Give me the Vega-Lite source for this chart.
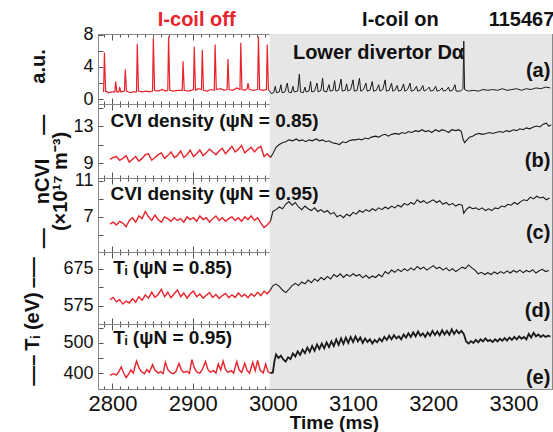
{
"$schema":"https://vega.github.io/schema/vega-lite/v6.json",
"padding":{"left":21,"top":9,"right":4,"bottom":2},
"config":{"font":"Liberation Sans","view":{"stroke":"#888","strokeWidth":1},"axis":{"grid":false,"domainColor":"#888","tickColor":"#555","labelColor":"#111","titleColor":"#111"}},
"datasets":{
"shade":[{"t":2996,"t2":3348}],
"a_off":[{"t":2789,"v":0.9},{"t":2790,"v":5.8},{"t":2791.5,"v":1.0},{"t":2795,"v":0.8},{"t":2799,"v":0.9},{"t":2803,"v":0.9},{"t":2804,"v":2.2},{"t":2805.5,"v":0.9},{"t":2808,"v":0.9},{"t":2809,"v":1.5},{"t":2810.5,"v":0.9},{"t":2815,"v":1.0},{"t":2816,"v":3.7},{"t":2817.5,"v":1.0},{"t":2822,"v":0.8},{"t":2826,"v":0.9},{"t":2830,"v":0.9},{"t":2831,"v":6.9},{"t":2832.5,"v":1.0},{"t":2837,"v":0.9},{"t":2842,"v":1.0},{"t":2846,"v":0.9},{"t":2850,"v":1.0},{"t":2851,"v":7.6},{"t":2852.5,"v":1.1},{"t":2857,"v":1.0},{"t":2862,"v":1.2},{"t":2866,"v":1.0},{"t":2869,"v":1.1},{"t":2870,"v":7.8},{"t":2871.5,"v":1.1},{"t":2876,"v":1.0},{"t":2881,"v":1.1},{"t":2887,"v":1.1},{"t":2888,"v":4.7},{"t":2889.5,"v":1.1},{"t":2895,"v":1.0},{"t":2901,"v":1.2},{"t":2902,"v":6.5},{"t":2903.5,"v":1.1},{"t":2907,"v":1.3},{"t":2911,"v":1.2},{"t":2912,"v":6.1},{"t":2913.5,"v":1.1},{"t":2918,"v":1.0},{"t":2923,"v":1.2},{"t":2927,"v":1.1},{"t":2928,"v":6.8},{"t":2929.5,"v":1.2},{"t":2935,"v":1.3},{"t":2939,"v":1.1},{"t":2943,"v":1.2},{"t":2944,"v":5.0},{"t":2945.5,"v":1.2},{"t":2950,"v":1.1},{"t":2955,"v":1.4},{"t":2959,"v":1.2},{"t":2960,"v":7.0},{"t":2961.5,"v":1.2},{"t":2965,"v":1.1},{"t":2968,"v":1.3},{"t":2969,"v":2.0},{"t":2970.5,"v":1.2},{"t":2976,"v":1.1},{"t":2981,"v":1.2},{"t":2982,"v":7.8},{"t":2983.5,"v":1.2},{"t":2988,"v":1.1},{"t":2992,"v":1.2},{"t":2993,"v":6.8},{"t":2994.5,"v":1.2},{"t":2996,"v":1.0}],
"a_on":[{"t":2996,"v":1.0},{"t":2998,"v":0.7},{"t":3001,"v":0.8},{"t":3003,"v":1.6},{"t":3004.5,"v":0.8},{"t":3008,"v":0.9},{"t":3010,"v":1.8},{"t":3011.5,"v":0.8},{"t":3015,"v":0.9},{"t":3018,"v":2.0},{"t":3019.5,"v":0.9},{"t":3023,"v":0.8},{"t":3025,"v":1.6},{"t":3026.5,"v":0.9},{"t":3031,"v":1.0},{"t":3033,"v":3.1},{"t":3034.5,"v":0.9},{"t":3038,"v":0.8},{"t":3040,"v":1.5},{"t":3041.5,"v":0.9},{"t":3045,"v":1.0},{"t":3047,"v":2.2},{"t":3048.5,"v":0.9},{"t":3052,"v":1.0},{"t":3055,"v":2.0},{"t":3056.5,"v":0.9},{"t":3060,"v":1.1},{"t":3062,"v":2.6},{"t":3063.5,"v":1.0},{"t":3067,"v":0.9},{"t":3070,"v":1.8},{"t":3071.5,"v":1.0},{"t":3075,"v":1.1},{"t":3077,"v":2.3},{"t":3078.5,"v":1.0},{"t":3082,"v":1.1},{"t":3085,"v":2.5},{"t":3086.5,"v":1.0},{"t":3090,"v":1.1},{"t":3092,"v":1.9},{"t":3093.5,"v":1.0},{"t":3097,"v":1.2},{"t":3100,"v":2.4},{"t":3101.5,"v":1.0},{"t":3105,"v":1.1},{"t":3108,"v":2.6},{"t":3109.5,"v":1.0},{"t":3113,"v":1.2},{"t":3116,"v":2.0},{"t":3117.5,"v":1.0},{"t":3121,"v":1.1},{"t":3124,"v":2.2},{"t":3125.5,"v":1.0},{"t":3129,"v":1.1},{"t":3132,"v":1.8},{"t":3133.5,"v":1.0},{"t":3137,"v":1.2},{"t":3140,"v":2.4},{"t":3141.5,"v":1.0},{"t":3145,"v":1.1},{"t":3148,"v":2.0},{"t":3149.5,"v":1.0},{"t":3152,"v":1.1},{"t":3155,"v":1.7},{"t":3156.5,"v":1.0},{"t":3160,"v":1.1},{"t":3163,"v":1.9},{"t":3164.5,"v":1.0},{"t":3168,"v":1.2},{"t":3171,"v":2.0},{"t":3172.5,"v":1.0},{"t":3176,"v":1.1},{"t":3179,"v":1.6},{"t":3180.5,"v":1.0},{"t":3184,"v":1.1},{"t":3187,"v":1.7},{"t":3188.5,"v":1.0},{"t":3192,"v":1.2},{"t":3195,"v":1.5},{"t":3196.5,"v":1.0},{"t":3200,"v":1.1},{"t":3203,"v":1.6},{"t":3204.5,"v":1.0},{"t":3208,"v":1.1},{"t":3211,"v":1.4},{"t":3212.5,"v":1.0},{"t":3216,"v":1.1},{"t":3219,"v":1.5},{"t":3220.5,"v":1.0},{"t":3224,"v":1.1},{"t":3227,"v":1.8},{"t":3228.5,"v":1.0},{"t":3234,"v":1.0},{"t":3237,"v":1.3},{"t":3238,"v":7.2},{"t":3239,"v":1.2},{"t":3244,"v":1.0},{"t":3250,"v":1.1},{"t":3256,"v":1.0},{"t":3262,"v":1.2},{"t":3268,"v":1.1},{"t":3274,"v":1.2},{"t":3280,"v":1.1},{"t":3286,"v":1.3},{"t":3292,"v":1.1},{"t":3298,"v":1.2},{"t":3304,"v":1.3},{"t":3310,"v":1.1},{"t":3316,"v":1.3},{"t":3322,"v":1.2},{"t":3328,"v":1.4},{"t":3334,"v":1.3},{"t":3340,"v":1.5},{"t":3346,"v":1.4}],
"b_off":[{"t":2797,"v":9.4},{"t":2801,"v":9.6},{"t":2805,"v":9.7},{"t":2809,"v":9.3},{"t":2813,"v":9.5},{"t":2817,"v":9.8},{"t":2821,"v":9.1},{"t":2825,"v":9.4},{"t":2829,"v":9.7},{"t":2833,"v":9.2},{"t":2837,"v":9.5},{"t":2841,"v":9.9},{"t":2845,"v":10.0},{"t":2849,"v":9.3},{"t":2853,"v":9.6},{"t":2857,"v":9.9},{"t":2861,"v":10.1},{"t":2865,"v":9.5},{"t":2869,"v":9.8},{"t":2873,"v":10.2},{"t":2877,"v":9.6},{"t":2881,"v":9.8},{"t":2885,"v":10.3},{"t":2889,"v":9.6},{"t":2893,"v":9.9},{"t":2897,"v":10.4},{"t":2901,"v":9.7},{"t":2905,"v":10.0},{"t":2909,"v":10.4},{"t":2913,"v":9.8},{"t":2917,"v":10.1},{"t":2921,"v":10.5},{"t":2925,"v":10.2},{"t":2929,"v":9.9},{"t":2933,"v":10.3},{"t":2937,"v":10.6},{"t":2941,"v":10.0},{"t":2945,"v":10.4},{"t":2949,"v":10.8},{"t":2953,"v":10.2},{"t":2957,"v":10.5},{"t":2961,"v":10.9},{"t":2965,"v":10.1},{"t":2969,"v":10.4},{"t":2973,"v":10.7},{"t":2977,"v":10.2},{"t":2981,"v":10.6},{"t":2985,"v":10.8},{"t":2989,"v":9.7},{"t":2993,"v":10.0},{"t":2997,"v":9.6}],
"b_on":[{"t":2997,"v":9.6},{"t":3000,"v":10.0},{"t":3004,"v":10.7},{"t":3008,"v":11.0},{"t":3012,"v":11.2},{"t":3016,"v":11.3},{"t":3020,"v":11.5},{"t":3025,"v":11.4},{"t":3029,"v":11.6},{"t":3033,"v":11.4},{"t":3037,"v":11.5},{"t":3041,"v":11.3},{"t":3045,"v":11.5},{"t":3049,"v":11.4},{"t":3054,"v":11.6},{"t":3058,"v":11.4},{"t":3062,"v":11.5},{"t":3066,"v":11.3},{"t":3070,"v":11.4},{"t":3074,"v":11.2},{"t":3079,"v":11.1},{"t":3083,"v":11.0},{"t":3087,"v":11.3},{"t":3091,"v":11.2},{"t":3095,"v":11.4},{"t":3099,"v":11.5},{"t":3103,"v":11.5},{"t":3107,"v":11.6},{"t":3111,"v":11.5},{"t":3115,"v":11.7},{"t":3119,"v":11.6},{"t":3123,"v":11.8},{"t":3128,"v":11.9},{"t":3132,"v":11.8},{"t":3136,"v":12.0},{"t":3140,"v":12.1},{"t":3144,"v":11.9},{"t":3148,"v":12.1},{"t":3153,"v":12.2},{"t":3157,"v":12.1},{"t":3161,"v":12.3},{"t":3165,"v":12.2},{"t":3169,"v":12.4},{"t":3173,"v":12.3},{"t":3178,"v":12.5},{"t":3182,"v":12.4},{"t":3186,"v":12.6},{"t":3190,"v":12.4},{"t":3194,"v":12.5},{"t":3198,"v":12.3},{"t":3203,"v":12.6},{"t":3207,"v":12.4},{"t":3211,"v":12.6},{"t":3215,"v":12.5},{"t":3219,"v":12.3},{"t":3223,"v":12.6},{"t":3228,"v":12.5},{"t":3232,"v":12.6},{"t":3235,"v":12.4},{"t":3237,"v":11.6},{"t":3239,"v":11.2},{"t":3242,"v":11.5},{"t":3245,"v":11.8},{"t":3249,"v":11.9},{"t":3253,"v":12.1},{"t":3257,"v":12.2},{"t":3261,"v":12.1},{"t":3266,"v":12.2},{"t":3270,"v":12.3},{"t":3274,"v":12.2},{"t":3278,"v":12.3},{"t":3283,"v":12.4},{"t":3287,"v":12.3},{"t":3291,"v":12.5},{"t":3295,"v":12.4},{"t":3300,"v":12.6},{"t":3304,"v":12.5},{"t":3308,"v":12.7},{"t":3312,"v":12.6},{"t":3316,"v":12.8},{"t":3320,"v":12.7},{"t":3325,"v":12.9},{"t":3329,"v":13.0},{"t":3333,"v":12.9},{"t":3337,"v":13.2},{"t":3341,"v":13.3},{"t":3344,"v":13.0},{"t":3347,"v":13.1}],
"c_off":[{"t":2797,"v":6.2},{"t":2801,"v":6.4},{"t":2805,"v":6.1},{"t":2809,"v":6.5},{"t":2813,"v":6.3},{"t":2817,"v":5.9},{"t":2821,"v":6.6},{"t":2825,"v":6.9},{"t":2829,"v":6.4},{"t":2833,"v":7.1},{"t":2837,"v":6.8},{"t":2841,"v":7.6},{"t":2845,"v":7.0},{"t":2849,"v":6.6},{"t":2853,"v":7.2},{"t":2857,"v":6.7},{"t":2861,"v":6.4},{"t":2865,"v":7.0},{"t":2869,"v":6.8},{"t":2873,"v":6.5},{"t":2877,"v":6.9},{"t":2881,"v":6.6},{"t":2885,"v":6.8},{"t":2889,"v":6.4},{"t":2893,"v":7.0},{"t":2897,"v":6.7},{"t":2901,"v":6.9},{"t":2905,"v":6.5},{"t":2909,"v":7.1},{"t":2913,"v":6.7},{"t":2917,"v":6.9},{"t":2921,"v":6.4},{"t":2925,"v":6.8},{"t":2929,"v":7.1},{"t":2933,"v":6.6},{"t":2937,"v":6.9},{"t":2941,"v":6.5},{"t":2945,"v":6.8},{"t":2949,"v":7.0},{"t":2953,"v":6.6},{"t":2957,"v":6.9},{"t":2961,"v":6.5},{"t":2965,"v":7.0},{"t":2969,"v":6.7},{"t":2973,"v":7.1},{"t":2977,"v":6.6},{"t":2981,"v":6.9},{"t":2985,"v":6.3},{"t":2989,"v":5.8},{"t":2993,"v":6.1},{"t":2997,"v":6.5}],
"c_on":[{"t":2997,"v":6.5},{"t":3000,"v":7.6},{"t":3004,"v":7.8},{"t":3008,"v":8.1},{"t":3012,"v":7.9},{"t":3016,"v":8.4},{"t":3020,"v":8.7},{"t":3024,"v":8.3},{"t":3028,"v":8.6},{"t":3032,"v":8.1},{"t":3036,"v":7.8},{"t":3040,"v":8.2},{"t":3044,"v":7.9},{"t":3048,"v":7.7},{"t":3052,"v":8.0},{"t":3056,"v":7.6},{"t":3060,"v":7.8},{"t":3064,"v":7.5},{"t":3068,"v":7.7},{"t":3072,"v":7.3},{"t":3076,"v":7.5},{"t":3080,"v":7.0},{"t":3084,"v":7.2},{"t":3088,"v":6.9},{"t":3092,"v":7.3},{"t":3096,"v":7.1},{"t":3100,"v":7.5},{"t":3104,"v":7.3},{"t":3108,"v":7.7},{"t":3112,"v":7.5},{"t":3116,"v":7.8},{"t":3120,"v":7.6},{"t":3124,"v":7.9},{"t":3128,"v":7.7},{"t":3132,"v":8.0},{"t":3136,"v":7.8},{"t":3140,"v":8.1},{"t":3144,"v":7.9},{"t":3148,"v":8.2},{"t":3152,"v":8.0},{"t":3156,"v":8.3},{"t":3160,"v":8.1},{"t":3164,"v":8.5},{"t":3168,"v":8.3},{"t":3172,"v":8.6},{"t":3176,"v":8.4},{"t":3180,"v":8.9},{"t":3184,"v":8.6},{"t":3188,"v":8.8},{"t":3192,"v":8.5},{"t":3196,"v":8.7},{"t":3200,"v":8.9},{"t":3204,"v":8.6},{"t":3208,"v":8.8},{"t":3212,"v":8.4},{"t":3216,"v":8.6},{"t":3220,"v":8.3},{"t":3224,"v":8.5},{"t":3228,"v":8.2},{"t":3232,"v":8.4},{"t":3236,"v":8.3},{"t":3238,"v":7.4},{"t":3241,"v":7.8},{"t":3245,"v":8.1},{"t":3249,"v":7.9},{"t":3253,"v":8.0},{"t":3257,"v":7.8},{"t":3261,"v":8.0},{"t":3265,"v":7.7},{"t":3269,"v":7.9},{"t":3273,"v":7.7},{"t":3277,"v":8.0},{"t":3281,"v":7.9},{"t":3285,"v":8.2},{"t":3289,"v":8.1},{"t":3293,"v":8.4},{"t":3297,"v":8.3},{"t":3301,"v":8.6},{"t":3305,"v":8.4},{"t":3309,"v":8.7},{"t":3313,"v":8.9},{"t":3317,"v":8.8},{"t":3321,"v":9.2},{"t":3325,"v":9.0},{"t":3329,"v":9.3},{"t":3333,"v":9.1},{"t":3337,"v":9.2},{"t":3341,"v":8.9},{"t":3345,"v":9.1}],
"d_off":[{"t":2797,"v":592},{"t":2801,"v":598},{"t":2805,"v":586},{"t":2809,"v":592},{"t":2813,"v":580},{"t":2817,"v":588},{"t":2821,"v":583},{"t":2825,"v":595},{"t":2829,"v":585},{"t":2833,"v":600},{"t":2837,"v":590},{"t":2841,"v":605},{"t":2845,"v":596},{"t":2849,"v":612},{"t":2853,"v":598},{"t":2857,"v":606},{"t":2861,"v":620},{"t":2865,"v":600},{"t":2869,"v":612},{"t":2873,"v":597},{"t":2877,"v":608},{"t":2881,"v":618},{"t":2885,"v":600},{"t":2889,"v":610},{"t":2893,"v":596},{"t":2897,"v":608},{"t":2901,"v":615},{"t":2905,"v":600},{"t":2909,"v":607},{"t":2913,"v":596},{"t":2917,"v":604},{"t":2921,"v":611},{"t":2925,"v":598},{"t":2929,"v":606},{"t":2933,"v":595},{"t":2937,"v":603},{"t":2941,"v":609},{"t":2945,"v":597},{"t":2949,"v":605},{"t":2953,"v":598},{"t":2957,"v":610},{"t":2961,"v":600},{"t":2965,"v":606},{"t":2969,"v":597},{"t":2973,"v":608},{"t":2977,"v":601},{"t":2981,"v":612},{"t":2985,"v":603},{"t":2989,"v":615},{"t":2993,"v":608},{"t":2997,"v":618}],
"d_on":[{"t":2997,"v":618},{"t":3000,"v":630},{"t":3004,"v":634},{"t":3008,"v":628},{"t":3012,"v":618},{"t":3016,"v":611},{"t":3020,"v":620},{"t":3024,"v":630},{"t":3028,"v":636},{"t":3032,"v":630},{"t":3036,"v":640},{"t":3040,"v":635},{"t":3044,"v":645},{"t":3048,"v":638},{"t":3052,"v":648},{"t":3056,"v":642},{"t":3060,"v":652},{"t":3064,"v":646},{"t":3068,"v":655},{"t":3072,"v":648},{"t":3076,"v":660},{"t":3080,"v":654},{"t":3084,"v":662},{"t":3088,"v":652},{"t":3092,"v":660},{"t":3096,"v":655},{"t":3100,"v":662},{"t":3104,"v":656},{"t":3108,"v":660},{"t":3112,"v":651},{"t":3116,"v":658},{"t":3120,"v":650},{"t":3124,"v":656},{"t":3128,"v":652},{"t":3132,"v":660},{"t":3136,"v":654},{"t":3140,"v":668},{"t":3144,"v":662},{"t":3148,"v":672},{"t":3152,"v":666},{"t":3156,"v":674},{"t":3160,"v":668},{"t":3164,"v":676},{"t":3168,"v":670},{"t":3172,"v":678},{"t":3176,"v":672},{"t":3180,"v":682},{"t":3184,"v":675},{"t":3188,"v":680},{"t":3192,"v":672},{"t":3196,"v":678},{"t":3200,"v":684},{"t":3204,"v":676},{"t":3208,"v":680},{"t":3212,"v":672},{"t":3216,"v":678},{"t":3220,"v":670},{"t":3224,"v":676},{"t":3228,"v":668},{"t":3232,"v":674},{"t":3236,"v":680},{"t":3240,"v":676},{"t":3244,"v":686},{"t":3248,"v":678},{"t":3252,"v":672},{"t":3256,"v":662},{"t":3260,"v":666},{"t":3264,"v":660},{"t":3268,"v":665},{"t":3272,"v":660},{"t":3276,"v":667},{"t":3280,"v":662},{"t":3284,"v":668},{"t":3288,"v":663},{"t":3292,"v":670},{"t":3296,"v":664},{"t":3300,"v":671},{"t":3304,"v":666},{"t":3308,"v":672},{"t":3312,"v":665},{"t":3316,"v":671},{"t":3320,"v":667},{"t":3324,"v":673},{"t":3328,"v":664},{"t":3332,"v":670},{"t":3336,"v":674},{"t":3340,"v":668},{"t":3344,"v":671}],
"e_off":[{"t":2797,"v":392},{"t":2801,"v":398},{"t":2805,"v":394},{"t":2808,"v":405},{"t":2811,"v":420},{"t":2814,"v":400},{"t":2817,"v":385},{"t":2820,"v":396},{"t":2823,"v":410},{"t":2826,"v":400},{"t":2830,"v":440},{"t":2833,"v":418},{"t":2836,"v":405},{"t":2840,"v":398},{"t":2843,"v":412},{"t":2846,"v":402},{"t":2850,"v":428},{"t":2853,"v":410},{"t":2857,"v":400},{"t":2860,"v":405},{"t":2863,"v":398},{"t":2866,"v":436},{"t":2869,"v":412},{"t":2872,"v":402},{"t":2876,"v":398},{"t":2879,"v":404},{"t":2883,"v":432},{"t":2886,"v":410},{"t":2889,"v":402},{"t":2893,"v":406},{"t":2896,"v":399},{"t":2899,"v":445},{"t":2902,"v":418},{"t":2905,"v":404},{"t":2909,"v":400},{"t":2912,"v":412},{"t":2916,"v":438},{"t":2919,"v":412},{"t":2922,"v":403},{"t":2926,"v":408},{"t":2929,"v":400},{"t":2932,"v":430},{"t":2935,"v":410},{"t":2938,"v":440},{"t":2941,"v":412},{"t":2944,"v":402},{"t":2948,"v":408},{"t":2951,"v":400},{"t":2955,"v":438},{"t":2958,"v":410},{"t":2961,"v":402},{"t":2965,"v":432},{"t":2968,"v":408},{"t":2971,"v":400},{"t":2975,"v":436},{"t":2978,"v":408},{"t":2981,"v":442},{"t":2984,"v":410},{"t":2988,"v":400},{"t":2991,"v":430},{"t":2994,"v":404},{"t":2997,"v":400}],
"e_on":[{"t":2997,"v":400},{"t":3000,"v":402},{"t":3002,"v":440},{"t":3004,"v":462},{"t":3007,"v":450},{"t":3010,"v":458},{"t":3013,"v":445},{"t":3016,"v":438},{"t":3019,"v":452},{"t":3022,"v":446},{"t":3025,"v":465},{"t":3028,"v":455},{"t":3031,"v":472},{"t":3034,"v":460},{"t":3037,"v":478},{"t":3040,"v":466},{"t":3043,"v":485},{"t":3046,"v":470},{"t":3049,"v":490},{"t":3052,"v":474},{"t":3055,"v":495},{"t":3058,"v":480},{"t":3061,"v":498},{"t":3064,"v":482},{"t":3067,"v":502},{"t":3070,"v":486},{"t":3073,"v":505},{"t":3076,"v":490},{"t":3079,"v":512},{"t":3082,"v":494},{"t":3085,"v":515},{"t":3088,"v":497},{"t":3091,"v":518},{"t":3094,"v":500},{"t":3097,"v":520},{"t":3100,"v":503},{"t":3103,"v":522},{"t":3106,"v":505},{"t":3109,"v":518},{"t":3112,"v":500},{"t":3115,"v":515},{"t":3118,"v":503},{"t":3121,"v":512},{"t":3124,"v":498},{"t":3127,"v":510},{"t":3130,"v":502},{"t":3133,"v":515},{"t":3136,"v":505},{"t":3139,"v":520},{"t":3142,"v":510},{"t":3145,"v":524},{"t":3148,"v":512},{"t":3151,"v":526},{"t":3154,"v":515},{"t":3157,"v":522},{"t":3160,"v":512},{"t":3163,"v":528},{"t":3166,"v":518},{"t":3169,"v":532},{"t":3172,"v":520},{"t":3175,"v":535},{"t":3178,"v":522},{"t":3181,"v":538},{"t":3184,"v":524},{"t":3187,"v":532},{"t":3190,"v":520},{"t":3193,"v":535},{"t":3196,"v":524},{"t":3199,"v":540},{"t":3202,"v":526},{"t":3205,"v":538},{"t":3208,"v":525},{"t":3211,"v":542},{"t":3214,"v":528},{"t":3217,"v":540},{"t":3220,"v":527},{"t":3223,"v":545},{"t":3226,"v":530},{"t":3229,"v":542},{"t":3232,"v":532},{"t":3235,"v":540},{"t":3238,"v":530},{"t":3241,"v":505},{"t":3244,"v":498},{"t":3247,"v":506},{"t":3250,"v":500},{"t":3253,"v":510},{"t":3256,"v":502},{"t":3259,"v":512},{"t":3262,"v":505},{"t":3265,"v":515},{"t":3268,"v":506},{"t":3271,"v":510},{"t":3274,"v":503},{"t":3277,"v":512},{"t":3280,"v":505},{"t":3283,"v":514},{"t":3286,"v":507},{"t":3289,"v":516},{"t":3292,"v":508},{"t":3295,"v":518},{"t":3298,"v":510},{"t":3301,"v":520},{"t":3304,"v":512},{"t":3307,"v":522},{"t":3310,"v":514},{"t":3313,"v":520},{"t":3316,"v":512},{"t":3319,"v":530},{"t":3322,"v":518},{"t":3325,"v":534},{"t":3328,"v":522},{"t":3331,"v":528},{"t":3334,"v":520},{"t":3337,"v":526},{"t":3340,"v":520},{"t":3343,"v":524},{"t":3346,"v":521}],
"a_red":[{"t":2905,"v":9.85,"txt":"I-coil off"}],
"a_c":[{"t":3159,"v":9.85,"txt":"I-coil on"},{"t":3310,"v":9.85,"txt":"115467"}],
"a_t":[{"t":3025,"v":5.75,"txt":"Lower divertor Dα"}],
"a_p":[{"t":3346,"v":3.5,"txt":"(a)"}],
"b_t":[{"t":2797.5,"v":13.54,"txt":"CVI density (ψN = 0.85)"}],
"b_p":[{"t":3346,"v":9.22,"txt":"(b)"}],
"c_t":[{"t":2797.5,"v":9.54,"txt":"CVI density (ψN = 0.95)"}],
"c_p":[{"t":3346,"v":5.19,"txt":"(c)"}],
"d_t":[{"t":2801,"v":678,"txt":"Tᵢ (ψN = 0.85)"}],
"d_p":[{"t":3346,"v":562,"txt":"(d)"}],
"e_t":[{"t":2801,"v":516,"txt":"Tᵢ (ψN = 0.95)"}],
"e_p":[{"t":3346,"v":383,"txt":"(e)"}]
},
"vconcat":[
{"width":454,"height":70,
"layer":[
{"data":{"name":"shade"},"mark":{"type":"rect","color":"#e6e6e6"},"encoding":{"x":{"field":"t","type":"quantitative","scale":{"domain":[2782,3348],"nice":false,"zero":false},"axis":{"orient":"bottom","values":[2790,2800,2810,2820,2830,2840,2850,2860,2870,2880,2890,2900,2910,2920,2930,2940,2950,2960,2970,2980,2990,3000,3010,3020,3030,3040,3050,3060,3070,3080,3090,3100,3110,3120,3130,3140,3150,3160,3170,3180,3190,3200,3210,3220,3230,3240,3250,3260,3270,3280,3290,3300,3310,3320,3330,3340],"labels":false,"title":null,"tickSize":{"condition":{"test":"datum.value % 100 === 0","value":-6},"value":-3}}},"x2":{"field":"t2"}}},
{"data":{"name":"a_off"},"mark":{"type":"line","color":"#e8232b","strokeWidth":1.2},"encoding":{"x":{"field":"t","type":"quantitative","scale":{"domain":[2782,3348],"nice":false,"zero":false},"axis":{"orient":"top","values":[2790,2800,2810,2820,2830,2840,2850,2860,2870,2880,2890,2900,2910,2920,2930,2940,2950,2960,2970,2980,2990,3000,3010,3020,3030,3040,3050,3060,3070,3080,3090,3100,3110,3120,3130,3140,3150,3160,3170,3180,3190,3200,3210,3220,3230,3240,3250,3260,3270,3280,3290,3300,3310,3320,3330,3340],"labels":false,"title":null,"tickSize":{"condition":{"test":"datum.value % 100 === 0","value":-6},"value":-3}}},"y":{"field":"v","type":"quantitative","scale":{"domain":[-0.6,8.1],"nice":false,"zero":false},"axis":{"orient":"left","values":[0,2,4,6,8],"labelExpr":"datum.value % 4 === 0 ? datum.label : ''","tickSize":-5,"labelPadding":10,"labelFontSize":18,"title":"a.u.","titleFontSize":20,"titleFontWeight":"bold","titleAngle":-90,"titleX":-60,"titleY":32,"titleAlign":"center","titleBaseline":"middle"}}}},
{"data":{"name":"a_on"},"mark":{"type":"line","color":"#1a1a1a","strokeWidth":1},"encoding":{"x":{"field":"t","type":"quantitative","scale":{"domain":[2782,3348],"nice":false,"zero":false},"axis":null},"y":{"field":"v","type":"quantitative","scale":{"domain":[-0.6,8.1],"nice":false,"zero":false},"axis":{"orient":"right","values":[0,2,4,6,8],"labels":false,"tickSize":-5,"title":null}}}},
{"data":{"name":"a_red"},"mark":{"type":"text","align":"center","baseline":"middle","fontSize":20,"fontWeight":"bold","color":"#e8232b"},"encoding":{"x":{"field":"t","type":"quantitative","scale":{"domain":[2782,3348],"nice":false,"zero":false},"axis":null},"y":{"field":"v","type":"quantitative","scale":{"domain":[-0.6,8.1],"nice":false,"zero":false},"axis":null},"text":{"field":"txt"}}},
{"data":{"name":"a_c"},"mark":{"type":"text","align":"center","baseline":"middle","fontSize":20,"fontWeight":"bold","color":"#111"},"encoding":{"x":{"field":"t","type":"quantitative","scale":{"domain":[2782,3348],"nice":false,"zero":false},"axis":null},"y":{"field":"v","type":"quantitative","scale":{"domain":[-0.6,8.1],"nice":false,"zero":false},"axis":null},"text":{"field":"txt"}}},
{"data":{"name":"a_t"},"mark":{"type":"text","align":"left","baseline":"middle","fontSize":20,"fontWeight":"bold","color":"#111"},"encoding":{"x":{"field":"t","type":"quantitative","scale":{"domain":[2782,3348],"nice":false,"zero":false},"axis":null},"y":{"field":"v","type":"quantitative","scale":{"domain":[-0.6,8.1],"nice":false,"zero":false},"axis":null},"text":{"field":"txt"}}},
{"data":{"name":"a_p"},"mark":{"type":"text","align":"right","baseline":"middle","fontSize":20,"fontWeight":"bold","color":"#111"},"encoding":{"x":{"field":"t","type":"quantitative","scale":{"domain":[2782,3348],"nice":false,"zero":false},"axis":null},"y":{"field":"v","type":"quantitative","scale":{"domain":[-0.6,8.1],"nice":false,"zero":false},"axis":null},"text":{"field":"txt"}}}
],
"resolve":{"axis":{"x":"independent","y":"independent"}}},
{"width":454,"height":74,
"layer":[
{"data":{"name":"shade"},"mark":{"type":"rect","color":"#e6e6e6"},"encoding":{"x":{"field":"t","type":"quantitative","scale":{"domain":[2782,3348],"nice":false,"zero":false},"axis":{"orient":"bottom","values":[2790,2800,2810,2820,2830,2840,2850,2860,2870,2880,2890,2900,2910,2920,2930,2940,2950,2960,2970,2980,2990,3000,3010,3020,3030,3040,3050,3060,3070,3080,3090,3100,3110,3120,3130,3140,3150,3160,3170,3180,3190,3200,3210,3220,3230,3240,3250,3260,3270,3280,3290,3300,3310,3320,3330,3340],"labels":false,"title":null,"tickSize":{"condition":{"test":"datum.value % 100 === 0","value":-6},"value":-3}}},"x2":{"field":"t2"}}},
{"data":{"name":"b_off"},"mark":{"type":"line","color":"#e8232b","strokeWidth":1.4},"encoding":{"x":{"field":"t","type":"quantitative","scale":{"domain":[2782,3348],"nice":false,"zero":false},"axis":{"orient":"top","values":[2790,2800,2810,2820,2830,2840,2850,2860,2870,2880,2890,2900,2910,2920,2930,2940,2950,2960,2970,2980,2990,3000,3010,3020,3030,3040,3050,3060,3070,3080,3090,3100,3110,3120,3130,3140,3150,3160,3170,3180,3190,3200,3210,3220,3230,3240,3250,3260,3270,3280,3290,3300,3310,3320,3330,3340],"labels":false,"title":null,"tickSize":{"condition":{"test":"datum.value % 100 === 0","value":-6},"value":-3}}},"y":{"field":"v","type":"quantitative","scale":{"domain":[7.38,15.38],"nice":false,"zero":false},"axis":{"orient":"left","values":[9,11,13,15],"labelExpr":"datum.value === 9 || datum.value === 13 ? datum.label : ''","tickSize":-5,"labelPadding":10,"labelFontSize":18,"title":["—\u2003\u2009nCVI\u2009\u2003—","(×10¹⁷ m⁻³)"],"titleFontSize":20,"titleFontWeight":"bold","titleLineHeight":18,"titleAngle":-90,"titleX":-56,"titleY":77,"titleAlign":"center","titleBaseline":"middle"}}}},
{"data":{"name":"b_on"},"mark":{"type":"line","color":"#1a1a1a","strokeWidth":1.1},"encoding":{"x":{"field":"t","type":"quantitative","scale":{"domain":[2782,3348],"nice":false,"zero":false},"axis":null},"y":{"field":"v","type":"quantitative","scale":{"domain":[7.38,15.38],"nice":false,"zero":false},"axis":{"orient":"right","values":[9,11,13,15],"labels":false,"tickSize":-5,"title":null}}}},
{"data":{"name":"b_t"},"mark":{"type":"text","align":"left","baseline":"middle","fontSize":19,"fontWeight":"bold","color":"#111"},"encoding":{"x":{"field":"t","type":"quantitative","scale":{"domain":[2782,3348],"nice":false,"zero":false},"axis":null},"y":{"field":"v","type":"quantitative","scale":{"domain":[7.38,15.38],"nice":false,"zero":false},"axis":null},"text":{"field":"txt"}}},
{"data":{"name":"b_p"},"mark":{"type":"text","align":"right","baseline":"middle","fontSize":20,"fontWeight":"bold","color":"#111"},"encoding":{"x":{"field":"t","type":"quantitative","scale":{"domain":[2782,3348],"nice":false,"zero":false},"axis":null},"y":{"field":"v","type":"quantitative","scale":{"domain":[7.38,15.38],"nice":false,"zero":false},"axis":null},"text":{"field":"txt"}}}
],
"resolve":{"axis":{"x":"independent","y":"independent"}}},
{"width":454,"height":74,
"layer":[
{"data":{"name":"shade"},"mark":{"type":"rect","color":"#e6e6e6"},"encoding":{"x":{"field":"t","type":"quantitative","scale":{"domain":[2782,3348],"nice":false,"zero":false},"axis":{"orient":"bottom","values":[2790,2800,2810,2820,2830,2840,2850,2860,2870,2880,2890,2900,2910,2920,2930,2940,2950,2960,2970,2980,2990,3000,3010,3020,3030,3040,3050,3060,3070,3080,3090,3100,3110,3120,3130,3140,3150,3160,3170,3180,3190,3200,3210,3220,3230,3240,3250,3260,3270,3280,3290,3300,3310,3320,3330,3340],"labels":false,"title":null,"tickSize":{"condition":{"test":"datum.value % 100 === 0","value":-6},"value":-3}}},"x2":{"field":"t2"}}},
{"data":{"name":"c_off"},"mark":{"type":"line","color":"#e8232b","strokeWidth":1.4},"encoding":{"x":{"field":"t","type":"quantitative","scale":{"domain":[2782,3348],"nice":false,"zero":false},"axis":{"orient":"top","values":[2790,2800,2810,2820,2830,2840,2850,2860,2870,2880,2890,2900,2910,2920,2930,2940,2950,2960,2970,2980,2990,3000,3010,3020,3030,3040,3050,3060,3070,3080,3090,3100,3110,3120,3130,3140,3150,3160,3170,3180,3190,3200,3210,3220,3230,3240,3250,3260,3270,3280,3290,3300,3310,3320,3330,3340],"labels":false,"title":null,"tickSize":{"condition":{"test":"datum.value % 100 === 0","value":-6},"value":-3}}},"y":{"field":"v","type":"quantitative","scale":{"domain":[3.08,11.33],"nice":false,"zero":false},"axis":{"orient":"left","values":[3,5,7,9,11],"labelExpr":"(datum.value - 3) % 4 === 0 ? datum.label : ''","tickSize":-5,"labelPadding":10,"labelFontSize":18,"title":null}}}},
{"data":{"name":"c_on"},"mark":{"type":"line","color":"#1a1a1a","strokeWidth":1.1},"encoding":{"x":{"field":"t","type":"quantitative","scale":{"domain":[2782,3348],"nice":false,"zero":false},"axis":null},"y":{"field":"v","type":"quantitative","scale":{"domain":[3.08,11.33],"nice":false,"zero":false},"axis":{"orient":"right","values":[3,5,7,9,11],"labels":false,"tickSize":-5,"title":null}}}},
{"data":{"name":"c_t"},"mark":{"type":"text","align":"left","baseline":"middle","fontSize":19,"fontWeight":"bold","color":"#111"},"encoding":{"x":{"field":"t","type":"quantitative","scale":{"domain":[2782,3348],"nice":false,"zero":false},"axis":null},"y":{"field":"v","type":"quantitative","scale":{"domain":[3.08,11.33],"nice":false,"zero":false},"axis":null},"text":{"field":"txt"}}},
{"data":{"name":"c_p"},"mark":{"type":"text","align":"right","baseline":"middle","fontSize":20,"fontWeight":"bold","color":"#111"},"encoding":{"x":{"field":"t","type":"quantitative","scale":{"domain":[2782,3348],"nice":false,"zero":false},"axis":null},"y":{"field":"v","type":"quantitative","scale":{"domain":[3.08,11.33],"nice":false,"zero":false},"axis":null},"text":{"field":"txt"}}}
],
"resolve":{"axis":{"x":"independent","y":"independent"}}},
{"width":454,"height":72,
"layer":[
{"data":{"name":"shade"},"mark":{"type":"rect","color":"#e6e6e6"},"encoding":{"x":{"field":"t","type":"quantitative","scale":{"domain":[2782,3348],"nice":false,"zero":false},"axis":{"orient":"bottom","values":[2790,2800,2810,2820,2830,2840,2850,2860,2870,2880,2890,2900,2910,2920,2930,2940,2950,2960,2970,2980,2990,3000,3010,3020,3030,3040,3050,3060,3070,3080,3090,3100,3110,3120,3130,3140,3150,3160,3170,3180,3190,3200,3210,3220,3230,3240,3250,3260,3270,3280,3290,3300,3310,3320,3330,3340],"labels":false,"title":null,"tickSize":{"condition":{"test":"datum.value % 100 === 0","value":-6},"value":-3}}},"x2":{"field":"t2"}}},
{"data":{"name":"d_off"},"mark":{"type":"line","color":"#e8232b","strokeWidth":1.4},"encoding":{"x":{"field":"t","type":"quantitative","scale":{"domain":[2782,3348],"nice":false,"zero":false},"axis":{"orient":"top","values":[2790,2800,2810,2820,2830,2840,2850,2860,2870,2880,2890,2900,2910,2920,2930,2940,2950,2960,2970,2980,2990,3000,3010,3020,3030,3040,3050,3060,3070,3080,3090,3100,3110,3120,3130,3140,3150,3160,3170,3180,3190,3200,3210,3220,3230,3240,3250,3260,3270,3280,3290,3300,3310,3320,3330,3340],"labels":false,"title":null,"tickSize":{"condition":{"test":"datum.value % 100 === 0","value":-6},"value":-3}}},"y":{"field":"v","type":"quantitative","scale":{"domain":[526,721],"nice":false,"zero":false},"axis":{"orient":"left","values":[575,625,675],"labelExpr":"datum.value !== 625 ? datum.label : ''","tickSize":-5,"labelPadding":10,"labelFontSize":18,"title":"—–\u2009Tᵢ (eV)\u2009–—","titleFontSize":20,"titleFontWeight":"bold","titleAngle":-90,"titleX":-66,"titleY":69,"titleAlign":"center","titleBaseline":"middle"}}}},
{"data":{"name":"d_on"},"mark":{"type":"line","color":"#1a1a1a","strokeWidth":1.1},"encoding":{"x":{"field":"t","type":"quantitative","scale":{"domain":[2782,3348],"nice":false,"zero":false},"axis":null},"y":{"field":"v","type":"quantitative","scale":{"domain":[526,721],"nice":false,"zero":false},"axis":{"orient":"right","values":[575,625,675],"labels":false,"tickSize":-5,"title":null}}}},
{"data":{"name":"d_t"},"mark":{"type":"text","align":"left","baseline":"middle","fontSize":19,"fontWeight":"bold","color":"#111"},"encoding":{"x":{"field":"t","type":"quantitative","scale":{"domain":[2782,3348],"nice":false,"zero":false},"axis":null},"y":{"field":"v","type":"quantitative","scale":{"domain":[526,721],"nice":false,"zero":false},"axis":null},"text":{"field":"txt"}}},
{"data":{"name":"d_p"},"mark":{"type":"text","align":"right","baseline":"middle","fontSize":20,"fontWeight":"bold","color":"#111"},"encoding":{"x":{"field":"t","type":"quantitative","scale":{"domain":[2782,3348],"nice":false,"zero":false},"axis":null},"y":{"field":"v","type":"quantitative","scale":{"domain":[526,721],"nice":false,"zero":false},"axis":null},"text":{"field":"txt"}}}
],
"resolve":{"axis":{"x":"independent","y":"independent"}}},
{"width":454,"height":65,
"layer":[
{"data":{"name":"shade"},"mark":{"type":"rect","color":"#e6e6e6"},"encoding":{"x":{"field":"t","type":"quantitative","scale":{"domain":[2782,3348],"nice":false,"zero":false},"axis":{"orient":"bottom","values":[2790,2800,2810,2820,2830,2840,2850,2860,2870,2880,2890,2900,2910,2920,2930,2940,2950,2960,2970,2980,2990,3000,3010,3020,3030,3040,3050,3060,3070,3080,3090,3100,3110,3120,3130,3140,3150,3160,3170,3180,3190,3200,3210,3220,3230,3240,3250,3260,3270,3280,3290,3300,3310,3320,3330,3340],"format":"d","labelExpr":"datum.value % 100 === 0 ? datum.label : ''","labelFont":"Liberation Sans Narrow, Liberation Sans","labelFontSize":22,"labelPadding":10,"tickSize":{"condition":{"test":"datum.value % 100 === 0","value":-6},"value":-3},"title":"Time (ms)","titleFont":"Liberation Sans","titleFontSize":19,"titleFontWeight":"bold","titleX":236,"titleY":39,"titleAlign":"center","titleBaseline":"alphabetic"}},"x2":{"field":"t2"}}},
{"data":{"name":"e_off"},"mark":{"type":"line","color":"#e8232b","strokeWidth":1.4},"encoding":{"x":{"field":"t","type":"quantitative","scale":{"domain":[2782,3348],"nice":false,"zero":false},"axis":{"orient":"top","values":[2790,2800,2810,2820,2830,2840,2850,2860,2870,2880,2890,2900,2910,2920,2930,2940,2950,2960,2970,2980,2990,3000,3010,3020,3030,3040,3050,3060,3070,3080,3090,3100,3110,3120,3130,3140,3150,3160,3170,3180,3190,3200,3210,3220,3230,3240,3250,3260,3270,3280,3290,3300,3310,3320,3330,3340],"labels":false,"title":null,"tickSize":{"condition":{"test":"datum.value % 100 === 0","value":-6},"value":-3}}},"y":{"field":"v","type":"quantitative","scale":{"domain":[347,563],"nice":false,"zero":false},"axis":{"orient":"left","values":[400,450,500,550],"labelExpr":"datum.value % 100 === 0 ? datum.label : ''","tickSize":-5,"labelPadding":10,"labelFontSize":18,"title":null}}}},
{"data":{"name":"e_on"},"mark":{"type":"line","color":"#1a1a1a","strokeWidth":1.8},"encoding":{"x":{"field":"t","type":"quantitative","scale":{"domain":[2782,3348],"nice":false,"zero":false},"axis":null},"y":{"field":"v","type":"quantitative","scale":{"domain":[347,563],"nice":false,"zero":false},"axis":{"orient":"right","values":[400,450,500,550],"labels":false,"tickSize":-5,"title":null}}}},
{"data":{"name":"e_t"},"mark":{"type":"text","align":"left","baseline":"middle","fontSize":19,"fontWeight":"bold","color":"#111"},"encoding":{"x":{"field":"t","type":"quantitative","scale":{"domain":[2782,3348],"nice":false,"zero":false},"axis":null},"y":{"field":"v","type":"quantitative","scale":{"domain":[347,563],"nice":false,"zero":false},"axis":null},"text":{"field":"txt"}}},
{"data":{"name":"e_p"},"mark":{"type":"text","align":"right","baseline":"middle","fontSize":20,"fontWeight":"bold","color":"#111"},"encoding":{"x":{"field":"t","type":"quantitative","scale":{"domain":[2782,3348],"nice":false,"zero":false},"axis":null},"y":{"field":"v","type":"quantitative","scale":{"domain":[347,563],"nice":false,"zero":false},"axis":null},"text":{"field":"txt"}}}
],
"resolve":{"axis":{"x":"independent","y":"independent"}}}
],
"spacing":0,
"bounds":"flush"
}
